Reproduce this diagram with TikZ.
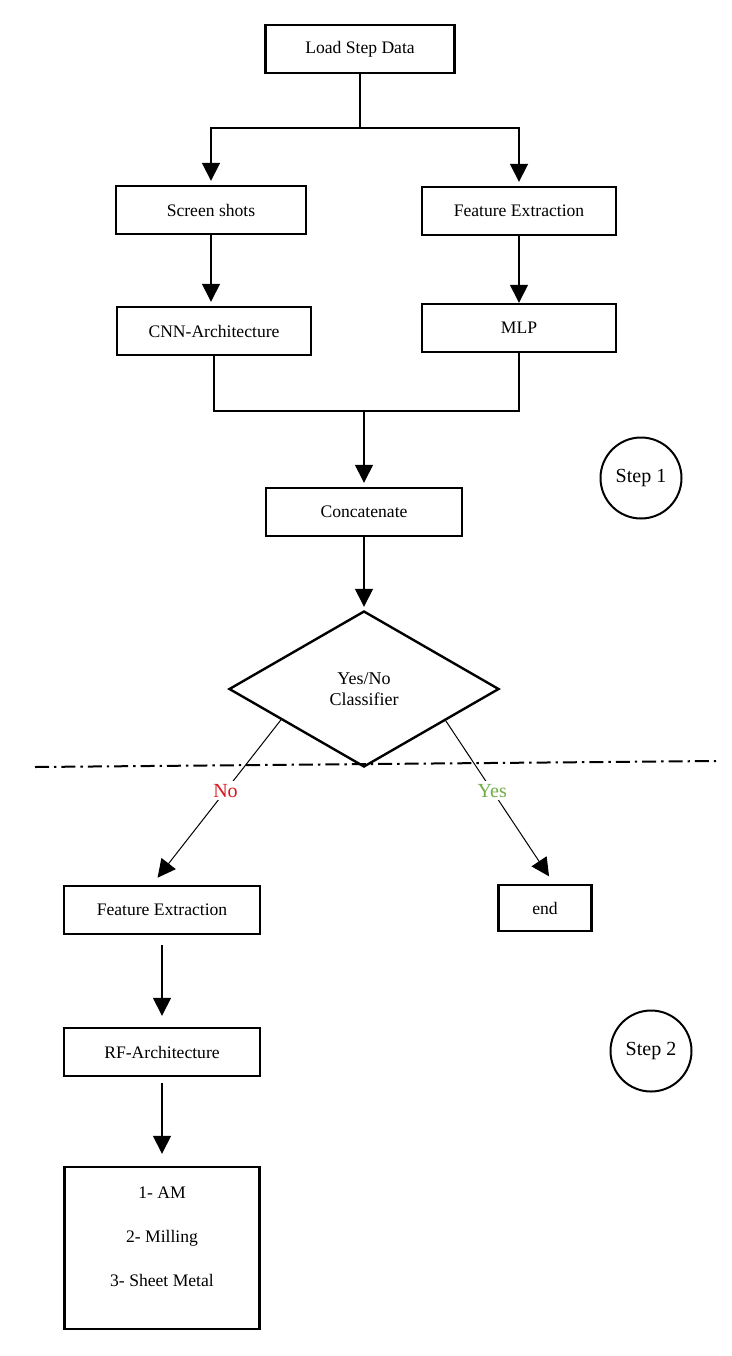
\documentclass[tikz,border=0pt]{standalone}
\usepackage{fontspec}
\setmainfont{Liberation Serif}
\usetikzlibrary{shapes.geometric,arrows.meta,calc}
\definecolor{noRed}{RGB}{214,24,32}
\definecolor{yesGreen}{RGB}{112,173,71}

\begin{document}
\begin{tikzpicture}[x=0.5pt, y=-0.5pt,
  box/.style={rectangle, draw, line width=1.2pt, minimum width=97pt, minimum height=24pt, inner sep=2pt, font=\fontsize{8.8}{10.5}\selectfont},
  decision/.style={diamond, draw, line width=1.2pt, minimum width=135pt, minimum height=78pt, inner sep=0pt, align=center, font=\fontsize{9}{10.5}\selectfont},
  stage/.style={circle, draw, line width=1pt, minimum size=40.5pt, inner sep=0pt, font=\fontsize{10}{12}\selectfont},
  flow/.style={-{Triangle[width=9pt,length=9pt]}, line width=0.7pt},
  link/.style={line width=0.9pt},
  branch/.style={-{Triangle[width=9pt,length=9pt]}, line width=0.5pt},
  answer/.style={fill=white, inner sep=1.5pt, font=\fontsize{10}{12}\selectfont}]

\useasboundingbox (0,0) rectangle (732,1356);

\node[box, minimum width=94.5pt] (load) at (360,49) {Load Step Data};
\node[box, minimum width=95pt] (shots) at (211,210) {Screen shots};
\node[box] (featA) at (519,211) {Feature Extraction};
\node[box] (cnn) at (214,331) {CNN-Architecture};
\node[box] (mlp) at (519,328) {MLP};
\node[box, minimum width=98pt] (concat) at (364,512) {Concatenate};
\node[decision] (classifier) at (364,689) {Yes/No\\Classifier};
\node[box, minimum width=98pt] (featB) at (162,910) {Feature Extraction};
\node[box, minimum width=46.5pt, minimum height=23pt] (endbox) at (545,908) {end};
\node[box, minimum width=98pt] (rf) at (162,1052) {RF-Architecture};
\node[box, minimum width=97.5pt, minimum height=81pt] (classes) at (162,1248)
  {\begin{tabular}{@{}c@{}}1- AM\\[11.5pt]2- Milling\\[11.5pt]3- Sheet Metal\\[10pt]\end{tabular}};
\node[stage] (stepA) at (641,478) {Step 1};
\node[stage] (stepB) at (651,1051) {Step 2};

\coordinate (split) at (360,128);
\coordinate (merge) at (364,411);
\coordinate (sepL) at (35,767);
\coordinate (sepR) at (716,761);

\draw[link] (load) -- (split);
\draw[flow, line width=0.9pt, shorten >=2pt] (split) -| (shots);
\draw[flow, line width=0.9pt, shorten >=2pt] (split) -| (featA);
\draw[flow, shorten >=2pt] (shots.south) -- (shots.south |- cnn.north);
\draw[flow] (featA) -- (mlp);
\draw[link] (cnn) |- (merge) -| (mlp);
\draw[flow, shorten >=2pt] (merge) -- (concat);
\draw[flow, shorten >=1.5pt] (concat) -- (classifier);

\draw[line width=1pt, dash pattern=on 7pt off 2.5pt on 1.2pt off 2.5pt] (sepL) -- (sepR);

\draw[branch, shorten >=4.5pt] ($(classifier.west)!0.39!(classifier.south)$)
  -- node[answer, text=noRed, pos=0.43] (noLabel) {No} ([xshift=-5pt]featB.north);
\draw[branch, shorten >=4.5pt] ($(classifier.east)!0.4!(classifier.south)$)
  -- node[answer, text=yesGreen, pos=0.43] (yesLabel) {Yes} ([xshift=4.5pt]endbox.north);

\draw[flow, shorten <=5pt, shorten >=5.5pt] (featB) -- (rf);
\draw[flow, shorten <=3pt, shorten >=6pt] (rf) -- (classes);
\end{tikzpicture}
\end{document}
